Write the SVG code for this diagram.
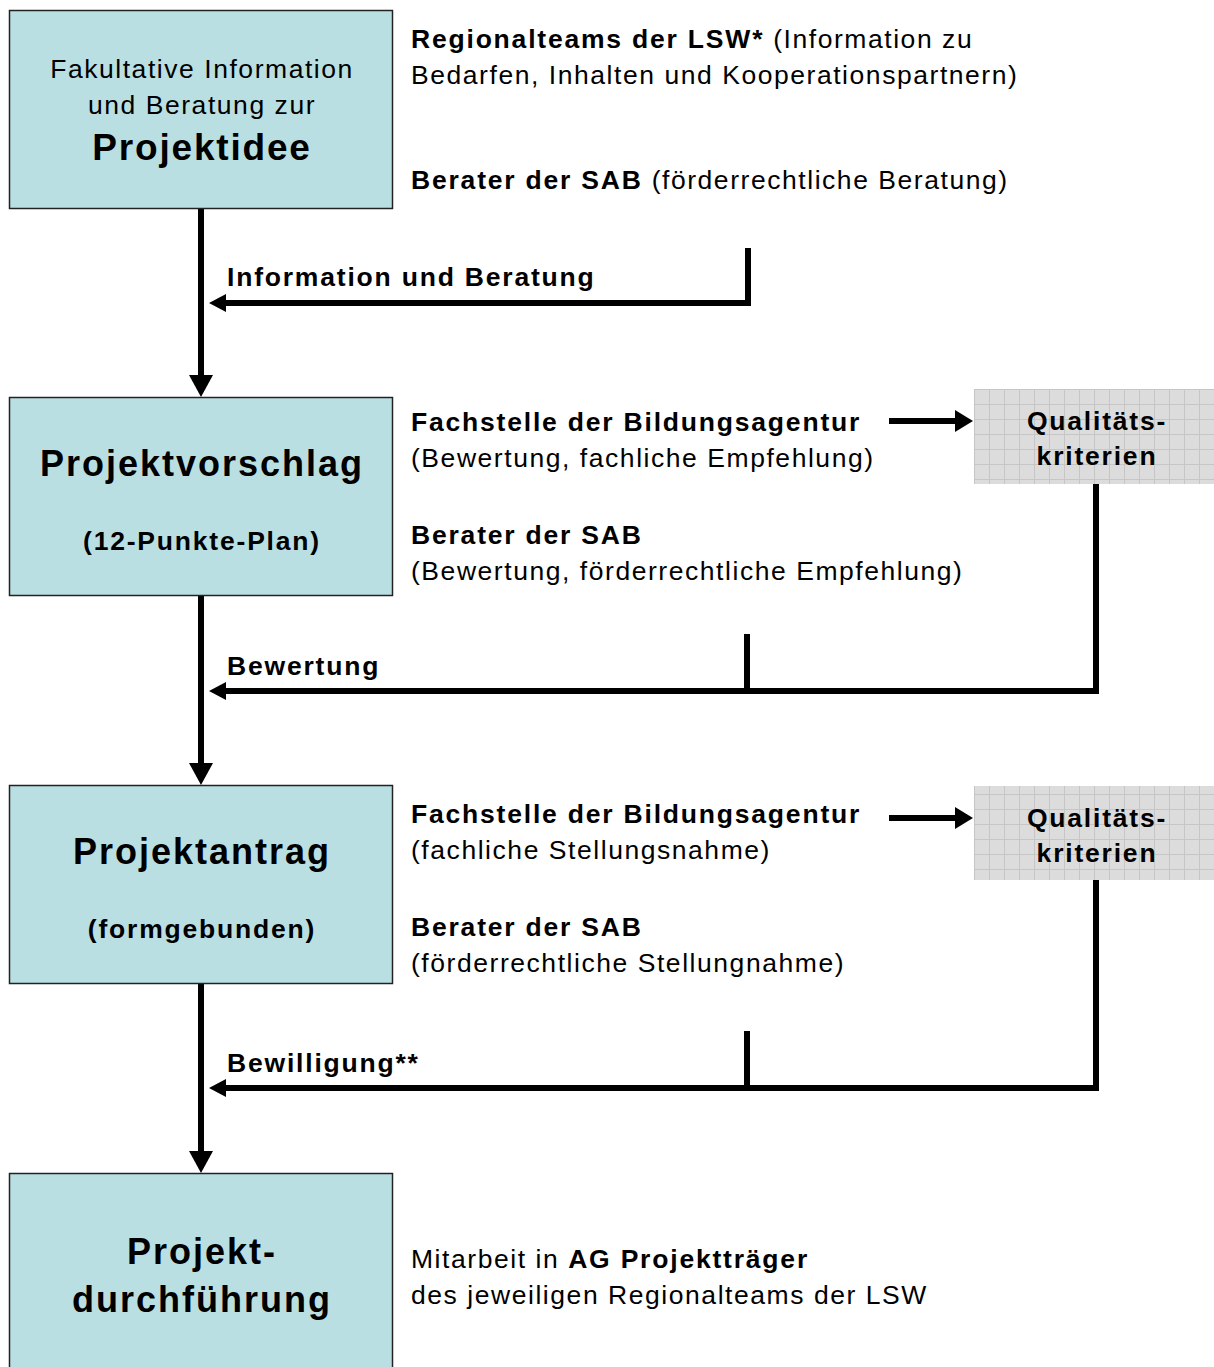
<svg xmlns="http://www.w3.org/2000/svg" width="1214" height="1367" viewBox="0 0 1214 1367">
<style>
.box{fill:#BADFE2;stroke:#222;stroke-width:1.5}
.t{font-family:"Liberation Sans",Arial,sans-serif;fill:#000;letter-spacing:1.55px}
.n{font-size:26.5px}
.b{font-weight:bold;letter-spacing:1.8px}
.c{text-anchor:middle}
.big{font-size:36px;font-weight:bold;letter-spacing:2px}
.line{stroke:#000;stroke-width:6;fill:none}
.qk{fill:url(#grid)}
</style>
<defs>
<pattern id="grid" x="974" y="389" width="15" height="15" patternUnits="userSpaceOnUse">
<rect width="15" height="15" fill="#DCDCDC"/>
<path d="M0 0.5H15M0.5 0V15" stroke="#C6C6C6" stroke-width="1"/>
</pattern>
<marker id="ahMain" viewBox="0 0 22 24" refX="0" refY="12" markerWidth="22" markerHeight="24" orient="auto" markerUnits="userSpaceOnUse">
<path d="M0 0L22 12L0 24Z" fill="#000"/>
</marker>
<marker id="ahBack" viewBox="0 0 17 18" refX="0" refY="9" markerWidth="17" markerHeight="18" orient="auto" markerUnits="userSpaceOnUse">
<path d="M0 0L17 9L0 18Z" fill="#000"/>
</marker>
<marker id="ahSide" viewBox="0 0 18 22" refX="0" refY="11" markerWidth="18" markerHeight="22" orient="auto" markerUnits="userSpaceOnUse">
<path d="M0 0L18 11L0 22Z" fill="#000"/>
</marker>
</defs>
<rect width="1214" height="1367" fill="#fff"/>

<g id="connectors">
<line class="line" x1="201" y1="209" x2="201" y2="375" marker-end="url(#ahMain)"/>
<line class="line" x1="201" y1="596" x2="201" y2="763" marker-end="url(#ahMain)"/>
<line class="line" x1="201" y1="984" x2="201" y2="1151" marker-end="url(#ahMain)"/>
<polyline class="line" points="748,248 748,303 226,303" marker-end="url(#ahBack)"/>
<line class="line" x1="747" y1="634" x2="747" y2="691"/>
<polyline class="line" points="1096,484 1096,691 226,691" marker-end="url(#ahBack)"/>
<line class="line" x1="747" y1="1031" x2="747" y2="1088"/>
<polyline class="line" points="1096,880 1096,1088 226,1088" marker-end="url(#ahBack)"/>
<line class="line" x1="889" y1="421" x2="955" y2="421" marker-end="url(#ahSide)"/>
<line class="line" x1="889" y1="818" x2="955" y2="818" marker-end="url(#ahSide)"/>
</g>

<g id="labels">
<text class="t n b" x="227" y="286">Information und Beratung</text>
<text class="t n b" x="227" y="675">Bewertung</text>
<text class="t n b" x="227" y="1072">Bewilligung**</text>
</g>

<g id="projektidee">
<rect class="box" x="9.5" y="10.5" width="383" height="198"/>
<text class="t n c" x="202" y="78">Fakultative Information</text>
<text class="t n c" x="202" y="114">und Beratung zur</text>
<text class="t c b" x="202" y="160" font-size="37">Projektidee</text>
</g>
<g id="info1">
<text class="t n" x="411" y="48"><tspan class="b">Regionalteams der LSW*</tspan> (Information zu</text>
<text class="t n" x="411" y="84">Bedarfen, Inhalten und Kooperationspartnern)</text>
<text class="t n" x="411" y="189"><tspan class="b">Berater der SAB</tspan> (förderrechtliche Beratung)</text>
</g>

<g id="projektvorschlag">
<rect class="box" x="9.5" y="397.5" width="383" height="198"/>
<text class="t c big" x="202" y="476">Projektvorschlag</text>
<text class="t n c b" x="202" y="550">(12-Punkte-Plan)</text>
</g>
<g id="info2">
<text class="t n b" x="411" y="431">Fachstelle der Bildungsagentur</text>
<text class="t n" x="411" y="467">(Bewertung, fachliche Empfehlung)</text>
<text class="t n b" x="411" y="544">Berater der SAB</text>
<text class="t n" x="411" y="580">(Bewertung, förderrechtliche Empfehlung)</text>
</g>
<g id="qk1">
<rect class="qk" x="974" y="389" width="240" height="95"/>
<text class="t n b c" x="1097" y="430">Qualitäts-</text>
<text class="t n b c" x="1097" y="465">kriterien</text>
</g>

<g id="projektantrag">
<rect class="box" x="9.5" y="785.5" width="383" height="198"/>
<text class="t c big" x="202" y="864">Projektantrag</text>
<text class="t n c b" x="202" y="938">(formgebunden)</text>
</g>
<g id="info3">
<text class="t n b" x="411" y="823">Fachstelle der Bildungsagentur</text>
<text class="t n" x="411" y="859">(fachliche Stellungsnahme)</text>
<text class="t n b" x="411" y="936">Berater der SAB</text>
<text class="t n" x="411" y="972">(förderrechtliche Stellungnahme)</text>
</g>
<g id="qk2">
<rect class="qk" x="974" y="786" width="240" height="94"/>
<text class="t n b c" x="1097" y="827">Qualitäts-</text>
<text class="t n b c" x="1097" y="862">kriterien</text>
</g>

<g id="projektdurchfuehrung">
<rect class="box" x="9.5" y="1173.5" width="383" height="200"/>
<text class="t c big" x="202" y="1264">Projekt-</text>
<text class="t c big" x="202" y="1312">durchführung</text>
</g>
<g id="info4">
<text class="t n" x="411" y="1268">Mitarbeit in <tspan class="b">AG Projektträger</tspan></text>
<text class="t n" x="411" y="1304">des jeweiligen Regionalteams der LSW</text>
</g>
</svg>
